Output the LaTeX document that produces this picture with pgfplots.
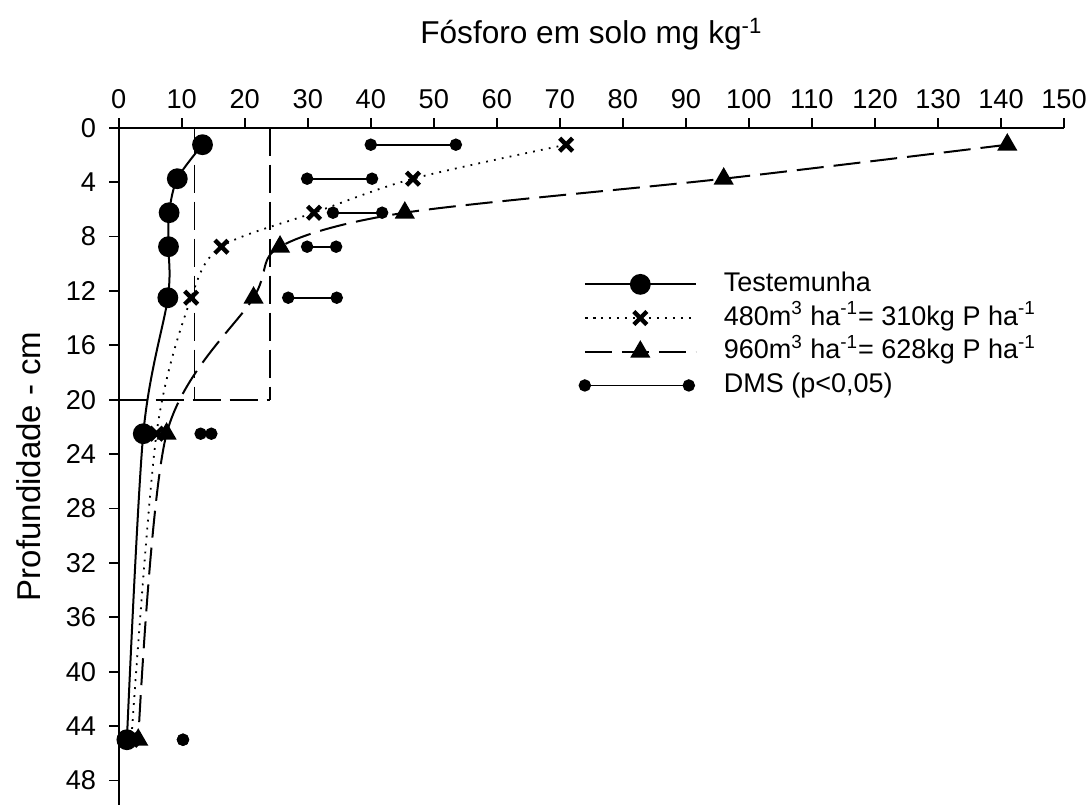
\documentclass[border=0pt]{standalone}
\usepackage{fontspec}
\setmainfont{Liberation Sans}
\usepackage{pgfplots}
\pgfplotsset{compat=1.18}
\pgfplotsset{
  legline/.style={legend image code/.code={\draw[mark repeat=2,mark phase=2,##1] plot coordinates {(0pt,0pt) (27.75pt,0pt) (55.5pt,0pt)}; \path (69pt,0pt);}},
  legdms/.style={legend image code/.code={\draw[##1] plot coordinates {(0pt,0pt) (52pt,0pt)}; \path (69pt,0pt);}},
}
\begin{document}
\begin{tikzpicture}
\begin{axis}[
  name=ax,
  scale only axis, width=472.65pt, height=338.65pt,
  xmin=0, xmax=150, ymin=0, ymax=49.8, y dir=reverse,
  axis x line=top, axis y line=left,
  axis line style={-, line width=0.85pt},
  tick align=outside, major tick length=4.8pt,
  tick style={line width=0.85pt, black},
  xtick={0,10,...,150}, ytick={0,4,...,48},
  tick label style={font=\fontsize{13.6}{16}\selectfont},
  xticklabel style={yshift=1pt},
  yticklabel style={xshift=-3pt},
  /pgf/number format/assume math mode=true,
  xlabel={Fósforo em solo mg kg\textsuperscript{-1}},
  ylabel={Profundidade - cm},
  xlabel style={font=\fontsize{15.8}{19}\selectfont, at={(axis description cs:0.5,1.1236)},anchor=base},
  ylabel style={font=\fontsize{16.5}{19}\selectfont, at={(axis description cs:-0.0955,0.5)},anchor=center},
  legend style={at={(axis description cs:0.4806,0.7944)}, anchor=north west,
    draw=none, fill=none, font=\fontsize{13.5}{16}\selectfont,
    row sep=3.85pt, nodes={inner sep=0pt, text height=10pt, text depth=3pt}},
  legend cell align=left,
]
% dashed reference box
\addplot[forget plot, black, line width=0.8pt, dash pattern=on 14pt off 4.5pt] coordinates {(0,20) (24,20)};
\addplot[forget plot, black, line width=0.8pt, dash pattern=on 14pt off 4.5pt] coordinates {(12,0) (12,20)};
\addplot[forget plot, black, line width=0.8pt, dash pattern=on 14pt off 4.5pt] coordinates {(24,0) (24,20)};

\addplot[black, line width=1pt, smooth, mark=*, mark size=4.7pt, legline]
  coordinates {(13.3,1.25) (9.3,3.75) (8.0,6.25) (7.9,8.75) (7.8,12.5) (3.9,22.5) (1.3,45)};
\addlegendentry{Testemunha}

\addplot[black, line width=0.9pt, smooth, dash pattern=on 0.9pt off 3.1pt,
  mark=x, mark size=4.6pt, mark options={solid, line width=2.2pt}, legline]
  coordinates {(71.0,1.25) (46.7,3.75) (31.0,6.25) (16.3,8.75) (11.5,12.5) (6.0,22.5) (2.0,45)};
\addlegendentry{480m\textsuperscript{3} ha\textsuperscript{-1}= 310kg P ha\textsuperscript{-1}}

\addplot[black, line width=1pt, smooth, dash pattern=on 13.5pt off 5pt,
  mark=triangle*, mark size=4.8pt, mark options={solid}, legline]
  coordinates {(141.0,1.25) (96.0,3.75) (45.4,6.25) (25.6,8.75) (21.4,12.5) (7.6,22.5) (3.1,45)};
\addlegendentry{960m\textsuperscript{3} ha\textsuperscript{-1}= 628kg P ha\textsuperscript{-1}}

\addplot[black, line width=0.8pt, mark=*, mark size=2.7pt, unbounded coords=jump, legdms]
  coordinates {(40.0,1.25) (53.5,1.25) (nan,nan)
               (29.9,3.75) (40.2,3.75) (nan,nan)
               (34.0,6.25) (41.8,6.25) (nan,nan)
               (29.9,8.75) (34.5,8.75) (nan,nan)
               (26.9,12.5) (34.6,12.5) (nan,nan)
               (13.0,22.5) (14.7,22.5) (nan,nan)
               (10.2,45) (10.2,45)};
\addlegendentry{DMS (p<0,05)}
\end{axis}
\pgfresetboundingbox
\useasboundingbox ([xshift=-59.35pt]ax.south west) rectangle ([xshift=13pt,yshift=63.85pt]ax.north east);
\end{tikzpicture}
\end{document}
